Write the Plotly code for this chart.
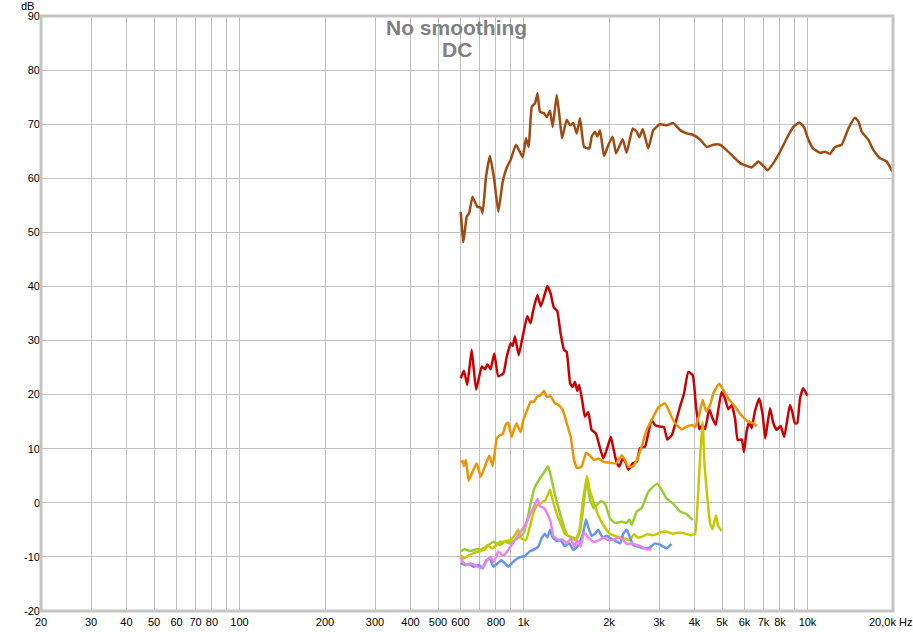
import plotly.graph_objects as go

# ---------------- data ----------------
brown_f = [601, 614, 631, 644, 661, 688, 707, 718, 738, 762, 789, 815, 845, 873, 901, 941, 993, 1020, 1043,
           1069, 1099, 1120, 1143, 1181, 1208, 1240, 1267, 1309, 1337, 1367, 1420, 1459, 1498, 1539, 1581,
           1634, 1706, 1738, 1786, 1820, 1860, 1921, 1990, 2061, 2117, 2235, 2308, 2424, 2505, 2559, 2630,
           2749, 2864, 3024, 3192, 3371, 3558, 3750, 3963, 4181, 4415, 4659, 4920, 5190, 5480, 5781, 6106,
           6355, 6709, 6983, 7240, 7584, 8004, 8453, 8918, 9359, 9728, 10077, 10480, 11065, 11526, 12000,
           12500, 13190, 13930, 14690, 15100, 15520, 16380, 17060, 17990, 19000, 19900]
brown_db = [53.8, 48.2, 52.9, 53.6, 56.6, 54.7, 54.6, 53.5, 60.3, 64.1, 59.7, 53.8, 59.4, 62.0, 63.4, 66.2,
            63.9, 67.4, 65.8, 73.2, 73.9, 75.7, 72.3, 72.0, 71.3, 72.5, 69.5, 75.4, 71.7, 67.4, 70.8, 69.8,
            70.2, 68.3, 71.1, 65.8, 65.5, 67.7, 68.6, 67.7, 68.9, 64.1, 66.2, 67.7, 64.6, 67.2, 64.7, 69.2,
            68.6, 67.6, 69.1, 65.5, 68.9, 70.0, 69.8, 70.2, 68.9, 68.3, 68.0, 67.2, 65.8, 66.2, 66.2, 65.2,
            64.0, 62.8, 62.3, 62.0, 63.1, 62.3, 61.5, 62.8, 64.9, 67.4, 69.5, 70.3, 69.4, 67.1, 65.5, 64.7,
            64.9, 64.5, 65.8, 66.2, 69.2, 71.2, 70.5, 68.6, 67.1, 65.2, 63.7, 63.1, 61.2]

red_f = [601, 617, 634, 657, 681, 713, 732, 746, 766, 789, 815, 849, 873, 901, 916, 933, 962, 993, 1031,
         1059, 1082, 1119, 1150, 1181, 1213, 1246, 1279, 1314, 1351, 1389, 1419, 1459, 1489, 1517, 1546,
         1571, 1615, 1645, 1690, 1737, 1799, 1860, 1910, 1963, 2029, 2072, 2129, 2174, 2235, 2296, 2339,
         2424, 2504, 2571, 2679, 2749, 2825, 2903, 3024, 3123, 3209, 3328, 3415, 3558, 3674, 3803, 3944,
         4049, 4160, 4264, 4358, 4508, 4633, 4750, 4851, 4985, 5120, 5260, 5406, 5557, 5680, 5866, 5976,
         6104, 6238, 6357, 6530, 6760, 6950, 7100, 7380, 7580, 7790, 8040, 8280, 8670, 8830, 9030, 9200,
         9410, 9660, 9980]
red_db = [23.0, 24.4, 21.8, 28.3, 20.9, 25.2, 24.7, 25.6, 24.7, 27.6, 23.4, 23.9, 27.0, 29.5, 29.0, 30.8,
          27.3, 30.7, 34.5, 33.2, 35.6, 38.4, 36.3, 38.1, 40.1, 38.7, 36.1, 35.5, 31.3, 28.3, 27.9, 22.1,
          21.4, 22.4, 20.7, 21.8, 18.4, 15.9, 16.8, 13.5, 12.8, 10.1, 8.2, 9.8, 12.2, 10.1, 7.4, 6.7, 8.2,
          7.3, 6.1, 7.3, 7.6, 10.1, 10.4, 12.8, 15.3, 14.4, 14.1, 14.0, 11.7, 12.5, 14.4, 17.8, 20.2, 24.2,
          23.6, 17.8, 13.6, 14.4, 13.6, 17.3, 15.6, 14.4, 17.2, 20.5, 19.3, 17.3, 18.1, 15.6, 11.6, 11.7,
          9.4, 13.2, 15.0, 13.8, 16.9, 19.3, 16.3, 11.9, 17.5, 14.7, 13.5, 14.2, 12.2, 18.1, 16.9, 14.7,
          14.7, 19.3, 21.2, 19.8]

orange_f = [601, 611, 617, 627, 641, 662, 684, 707, 738, 758, 779, 805, 826, 845, 868, 884, 908, 925, 945,
            977, 998, 1031, 1059, 1088, 1119, 1150, 1181, 1208, 1246, 1290, 1327, 1374, 1420, 1466, 1507,
            1546, 1602, 1660, 1715, 1771, 1833, 1910, 2017, 2117, 2217, 2277, 2339, 2424, 2505, 2605, 2716,
            2864, 2982, 3148, 3282, 3415, 3607, 3757, 3913, 4020, 4125, 4275, 4396, 4542, 4660, 4890, 5050,
            5260, 5555, 5866, 6190, 6450, 6630]
orange_db = [7.4, 7.8, 6.8, 7.9, 4.1, 5.8, 7.3, 4.8, 7.3, 8.7, 6.8, 11.9, 12.5, 12.7, 14.6, 14.8, 12.2,
             13.5, 14.7, 13.1, 15.3, 17.2, 18.7, 18.7, 19.7, 19.9, 20.7, 19.6, 19.7, 18.4, 18.1, 17.2, 14.7,
             12.2, 7.9, 6.4, 6.7, 9.2, 8.7, 7.9, 8.2, 7.6, 7.4, 7.3, 8.8, 7.9, 6.7, 6.7, 7.9, 10.4, 13.5,
             15.9, 17.6, 18.4, 16.5, 14.7, 13.6, 14.1, 14.4, 14.0, 15.6, 19.0, 16.9, 18.1, 20.2, 22.0, 20.9,
             19.3, 17.8, 16.1, 15.0, 14.7, 14.2]

green_f = [601, 617, 651, 684, 713, 741, 783, 826, 860, 895, 932, 966, 998, 1031, 1059, 1098, 1143, 1181,
           1222, 1246, 1279, 1314, 1361, 1398, 1436, 1489, 1539, 1581, 1625, 1671, 1715, 1771, 1833, 1884,
           1936, 2017, 2100, 2217, 2308, 2359, 2404, 2504, 2605, 2749, 2864, 2959, 3068, 3192, 3371, 3558,
           3757, 3944]
green_db = [-9.0, -8.6, -8.9, -8.6, -8.6, -8.1, -7.2, -7.8, -7.2, -7.5, -6.9, -6.3, -5.7, -3.2, -0.1, 3.0,
            4.5, 5.6, 6.7, 5.1, 2.4, -0.1, -2.9, -5.0, -6.1, -6.4, -6.6, -5.3, -0.7, 4.2, 0.5, -1.0, -0.1,
            0.3, -0.1, -2.9, -3.7, -3.5, -3.7, -3.1, -4.1, -1.6, -1.0, 2.0, 3.0, 3.5, 2.4, 0.8, -0.2, -1.6,
            -2.1, -3.2]

yellow_f = [601, 617, 638, 667, 697, 728, 746, 775, 805, 826, 860, 901, 932, 958, 985, 1020, 1053, 1088,
            1119, 1158, 1198, 1240, 1267, 1309, 1351, 1398, 1459, 1517, 1571, 1615, 1671, 1706, 1763, 1833,
            1910, 2017, 2158, 2277, 2370, 2449, 2518, 2605, 2728, 2864, 3024, 3172, 3350, 3540, 3705, 3880,
            4018, 4095, 4181, 4270, 4340, 4415, 4540, 4633, 4760, 4850, 4985]
yellow_db = [-9.6, -10.3, -9.8, -9.3, -9.0, -8.7, -7.8, -8.4, -7.8, -7.2, -7.2, -6.8, -6.0, -5.0, -6.6,
             -6.9, -4.4, -1.6, -0.4, 0.0, 0.6, 2.4, 0.5, -2.0, -3.8, -5.7, -6.3, -6.9, -5.3, -0.1, 5.0, 2.6,
             0.2, -2.3, -4.1, -5.7, -6.3, -6.6, -6.9, -5.8, -6.4, -6.3, -5.8, -6.0, -5.5, -5.3, -5.7, -5.5,
             -5.7, -6.0, -5.7, -0.7, 7.9, 15.0, 7.0, 2.4, -3.8, -4.9, -2.3, -4.3, -5.2]

pink_f = [601, 610, 631, 651, 675, 707, 732, 762, 787, 815, 849, 884, 916, 945, 977, 1013, 1050, 1082, 1119,
          1143, 1181, 1213, 1246, 1274, 1327, 1374, 1420, 1466, 1507, 1546, 1589, 1634, 1690, 1763, 1833,
          1910, 1990, 2072, 2158, 2235, 2308, 2404, 2505, 2605, 2716, 2825]
pink_db = [-10.0, -10.9, -11.5, -11.2, -11.5, -12.1, -11.2, -10.0, -10.9, -9.0, -9.8, -8.7, -7.5, -6.4,
           -5.3, -4.1, -2.4, -1.0, 0.7, -0.6, -1.0, -2.0, -3.5, -6.1, -6.8, -6.8, -7.5, -6.6, -8.1, -6.9,
           -8.1, -5.5, -6.4, -7.2, -7.0, -6.4, -6.9, -6.8, -6.4, -6.8, -7.6, -7.5, -7.8, -8.1, -8.6, -8.6]

blue_f = [601, 624, 644, 667, 697, 718, 741, 762, 783, 810, 837, 860, 884, 920, 966, 1013, 1050, 1082, 1127,
          1158, 1189, 1213, 1240, 1267, 1309, 1351, 1398, 1449, 1498, 1546, 1589, 1625, 1660, 1690, 1737,
          1786, 1833, 1898, 1963, 2029, 2100, 2188, 2247, 2308, 2370, 2433, 2532, 2634, 2778, 2903, 3038,
          3192, 3319]
blue_db = [-11.2, -11.5, -11.3, -11.8, -11.5, -12.1, -10.6, -10.3, -11.8, -11.2, -10.6, -11.2, -11.8, -10.9,
           -10.1, -9.8, -9.0, -8.7, -8.1, -6.6, -5.7, -6.4, -5.0, -6.4, -7.0, -6.9, -8.0, -7.5, -8.7, -8.1,
           -6.9, -5.3, -3.1, -4.5, -6.1, -5.7, -5.0, -6.4, -6.1, -6.6, -7.0, -7.5, -5.7, -5.0, -6.4, -7.8,
           -8.1, -8.4, -8.3, -7.5, -7.8, -8.4, -7.6]

x_tickvals = [20, 30, 40, 50, 60, 70, 80, 90, 100, 200, 300, 400, 500, 600, 700, 800, 900, 1000,
              2000, 3000, 4000, 5000, 6000, 7000, 8000, 9000, 10000, 20000]
x_ticktext = ["20", "30", "40", "50", "60", "70", "80", "", "100", "200", "300", "400", "500", "600", "",
              "800", "", "1k", "2k", "3k", "4k", "5k", "6k", "7k", "8k", "", "10k", ""]
y_tickvals = [-20, -10, 0, 10, 20, 30, 40, 50, 60, 70, 80, 90]
y_ticktext = ["-20", "-10", "0", "10", "20", "30", "40", "50", "60", "70", "80", "90"]

series = [
    (brown_f, brown_db, "#a04a10"),
    (red_f, red_db, "#cc0000"),
    (orange_f, orange_db, "#ee9400"),
    (green_f, green_db, "#99cc33"),
    (yellow_f, yellow_db, "#c8c800"),
    (blue_f, blue_db, "#6495ed"),
    (pink_f, pink_db, "#ee82ee"),
]

fig = go.Figure()
for f, db, col in series:
    fig.add_trace(go.Scatter(x=f, y=db, mode="lines",
                             line=dict(color=col, width=2.5, shape="spline", smoothing=0.4),
                             showlegend=False, hoverinfo="skip"))

font_main = "Liberation Sans, Arial, sans-serif"

fig.update_layout(
    width=913, height=632,
    margin=dict(l=41, r=20, t=16, b=21),
    paper_bgcolor="white", plot_bgcolor="white",
    font=dict(family=font_main, size=11, color="black"),
    xaxis=dict(type="log", range=[1.30103, 4.30103], tickmode="array",
               tickvals=x_tickvals, ticktext=x_ticktext, showgrid=True,
               gridcolor="#c0c0c0", gridwidth=1, zeroline=False, showline=False,
               ticks="", automargin=False, tickfont=dict(size=11), ticklabelstandoff=3),
    yaxis=dict(range=[-20, 90], tickmode="array", tickvals=y_tickvals, ticktext=y_ticktext,
               showgrid=True, gridcolor="#c0c0c0", gridwidth=1, zeroline=False,
               showline=False, ticks="", automargin=False, tickfont=dict(size=11)),
    shapes=[
        dict(type="rect", xref="paper", yref="paper", x0=0, x1=1, y0=0, y1=1,
             line=dict(color="#c4c4c4", width=3), layer="above"),
    ],
    annotations=[
        dict(text="<b>No smoothing</b>", xref="paper", yref="paper", x=0.488, y=0.9815,
             xanchor="center", yanchor="middle", showarrow=False,
             font=dict(family=font_main, size=21, color="#808080")),
        dict(text="<b>DC</b>", xref="paper", yref="paper", x=0.488, y=0.943,
             xanchor="center", yanchor="middle", showarrow=False,
             font=dict(family=font_main, size=21, color="#808080")),
        dict(text="dB", xref="paper", yref="paper", x=-0.0153, y=1.0168,
             xanchor="center", yanchor="middle", showarrow=False,
             font=dict(family=font_main, size=11, color="black")),
        dict(text="20,0k Hz", xref="paper", yref="paper", x=1.0, y=0, yshift=-11,
             xanchor="center", yanchor="middle", xshift=-3, showarrow=False,
             font=dict(family=font_main, size=11, color="black")),
    ],
)

fig.write_html("out.html", config={"displayModeBar": False},
               post_script="document.body.style.margin='0';document.body.style.padding='0';"
                           "document.body.style.overflow='hidden';")
